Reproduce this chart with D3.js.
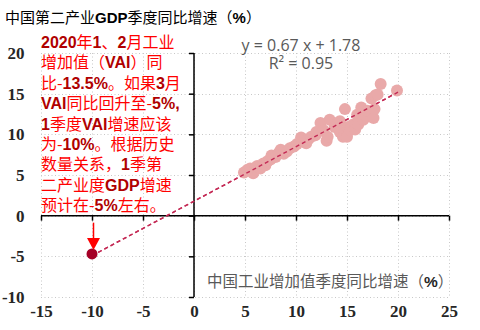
<!DOCTYPE html>
<html><head><meta charset="utf-8">
<script src="https://cdn.jsdelivr.net/npm/d3@7"></script>
<style>body{margin:0;background:#fff}svg{display:block}</style>
</head><body>
<svg id="c" width="480" height="330"></svg>
<script>
// ---- data ----
const xTicks = [-15, -10, -5, 0, 5, 10, 15, 20, 25];
const yTicks = [-10, -5, 0, 5, 10, 15, 20];
const vaiGrowth = [4.9,5.2,5.5,5.8,6.0,6.2,6.5,6.8,7.0,7.2,7.5,7.6,8.0,8.3,8.5,8.8,9.1,9.4,9.8,10.1,10.5,10.8,11.0,11.2,11.5,11.9,12.0,12.3,12.4,12.7,13.0,13.1,13.3,13.8,14.1,14.3,14.3,14.6,14.8,14.8,15.0,15.1,15.3,15.6,15.8,16.0,16.0,16.1,16.3,16.4,16.6,16.9,17.0,17.4,17.6,17.7,17.8,18.0,18.3,19.9];
const gdpGrowth = [5.3,5.6,5.8,5.2,5.9,6.1,5.8,6.4,6.2,6.7,6.9,7.4,7.2,7.7,8.1,7.6,7.9,8.3,8.5,8.8,9.6,9.1,8.9,9.4,9.7,9.9,10.3,10.4,11.4,10.5,9.2,9.7,11.8,10.9,11.4,10.3,11.6,9.7,9.9,13.1,9.7,10.9,10.5,11.2,10.6,11.4,12.4,11.2,11.8,13.3,11.8,12.2,12.9,14.4,12.0,13.1,14.8,14.9,16.2,15.4];
const forecastVai = [-10];
const forecastGdp = [-4.7];
const trendRange = [-10, 20];
const trendSlope = 0.67, trendIntercept = 1.78;
const equationLines = ["y = 0.67 x + 1.78", "R² = 0.95"];
const titleParts = [["中国第二产业", false], ["GDP", true], ["季度同比增速（", false], ["%", true], ["）", false]];
const xLabelParts = [["中国工业增加值季度同比增速（", false], ["%", true], ["）", false]];
const noteLines = [
  "2020年1、2月工业",
  "增加值（VAI）同",
  "比-13.5%。如果3月",
  "VAI同比回升至-5%,",
  "1季度VAI增速应该",
  "为-10%。根据历史",
  "数量关系，1季第",
  "二产业度GDP增速",
  "预计在-5%左右。"
];

// ---- drawing ----
const svg = d3.select("#c");
const x = d3.scaleLinear().domain([-15, 25]).range([41, 449]);
const y = d3.scaleLinear().domain([-10, 20]).range([297, 53]);
const cjk = "'Noto Sans CJK SC','Noto Sans',sans-serif";

// grid
const grid = svg.append("g").attr("stroke", "#c8c8c8").attr("stroke-width", 1).attr("stroke-dasharray", "1,2.5");
grid.selectAll(".gx").data(xTicks).join("line")
  .attr("x1", d => Math.round(x(d)) + 0.5).attr("x2", d => Math.round(x(d)) + 0.5)
  .attr("y1", y(20)).attr("y2", y(-10));
grid.selectAll(".gy").data(yTicks).join("line")
  .attr("y1", d => Math.round(y(d)) + 0.5).attr("y2", d => Math.round(y(d)) + 0.5)
  .attr("x1", x(-15)).attr("x2", x(25));

// annotation text
const note = svg.append("text").attr("font-family", cjk).attr("font-size", 16).attr("fill", "#ff0000");
noteLines.forEach((line, i) => {
  const parts = line.match(/[0-9A-Za-z.%,]+|[^0-9A-Za-z.%,]+/g);
  parts.forEach((p, j) => {
    const t = note.append("tspan").text(p);
    if (j === 0) t.attr("x", x(-15)).attr("y", 48 + i * 20.4);
    if (/^[0-9A-Za-z.%,]+$/.test(p)) t.attr("font-weight", "bold").attr("fill", "#b00000").attr("font-family", "'Liberation Sans',Arial,sans-serif");
  });
});

// axes (tick marks at zero lines)
const xAxis = svg.append("g").attr("transform", `translate(0,${y(0)})`)
  .call(d3.axisBottom(x).tickValues(xTicks).tickSize(5).tickFormat(""));
const yAxis = svg.append("g").attr("transform", `translate(${x(0)},0)`)
  .call(d3.axisLeft(y).tickValues(yTicks).tickSize(5).tickFormat(""));
[xAxis, yAxis].forEach(a => {
  a.select(".domain").attr("stroke", "#000").attr("stroke-width", 1.5);
  a.selectAll(".tick line").attr("stroke", "#000").attr("stroke-width", 1.5);
});
yAxis.select(".domain").attr("d", `M0,${y(20)}V${y(-10)}`);
xAxis.select(".domain").attr("d", `M${x(-15)},0H${x(25)}`);

// tick labels at the outer edges
const xLab = svg.append("g").attr("transform", "translate(0,311)")
  .call(d3.axisBottom(x).tickValues(xTicks).tickSize(0).tickFormat(d => String(d)));
const yLab = svg.append("g").attr("transform", "translate(31,0)")
  .call(d3.axisLeft(y).tickValues(yTicks).tickSize(0).tickFormat(d => String(d)));
[xLab, yLab].forEach(a => {
  a.select(".domain").remove();
  a.selectAll("text").attr("font-family", "'Liberation Serif','Times New Roman',serif")
    .attr("font-weight", "bold").attr("font-size", 17).attr("fill", "#262626");
});
xLab.selectAll("text").attr("dy", "0.2em");
yLab.selectAll("text").attr("dx", "-0.2em");

// trend line
svg.append("line")
  .attr("x1", x(trendRange[0])).attr("y1", y(trendSlope * trendRange[0] + trendIntercept))
  .attr("x2", x(trendRange[1])).attr("y2", y(trendSlope * trendRange[1] + trendIntercept))
  .attr("stroke", "#c42a55").attr("stroke-width", 1.4).attr("stroke-dasharray", "4,3");

// scatter
svg.append("g").selectAll("circle").data(vaiGrowth).join("circle")
  .attr("cx", d => x(d)).attr("cy", (d, i) => y(gdpGrowth[i])).attr("r", 6)
  .attr("fill", "#e9a9a9");
// redraw trend on top (dashes visible through points)
svg.append("line")
  .attr("x1", x(trendRange[0])).attr("y1", y(trendSlope * trendRange[0] + trendIntercept))
  .attr("x2", x(trendRange[1])).attr("y2", y(trendSlope * trendRange[1] + trendIntercept))
  .attr("stroke", "#c42a55").attr("stroke-width", 1.4).attr("stroke-dasharray", "4,3");

// forecast point
svg.append("g").selectAll("circle").data(forecastVai).join("circle")
  .attr("cx", d => x(d)).attr("cy", (d, i) => y(forecastGdp[i])).attr("r", 5.5)
  .attr("fill", "#a50026");

// arrow
const ax = x(forecastVai[0]) + 1.5, tipY = y(forecastGdp[0]) - 4;
svg.append("line").attr("x1", ax).attr("x2", ax).attr("y1", y(0) + 7).attr("y2", tipY - 10)
  .attr("stroke", "#ff0000").attr("stroke-width", 1.5);
svg.append("path").attr("d", `M${ax - 6.5},${tipY - 12}L${ax + 6.5},${tipY - 12}L${ax},${tipY}Z`).attr("fill", "#ff0000");

// equation
const eq = svg.append("text").attr("font-family", "'Open Sans',sans-serif").attr("font-size", 16)
  .attr("fill", "#595959").attr("text-anchor", "middle");
equationLines.forEach((l, i) => eq.append("tspan").attr("x", 301).attr("y", 51 + i * 18).text(l));

// title
const title = svg.append("text").attr("x", 5).attr("y", 23).attr("font-family", cjk).attr("font-size", 15).attr("fill", "#000");
titleParts.forEach(([t, b]) => {
  const s = title.append("tspan").text(t);
  if (b) s.attr("font-weight", "bold").attr("font-family", "'Liberation Sans',Arial,sans-serif");
});

// x-axis label
const xl = svg.append("text").attr("x", 207).attr("y", 287).attr("font-family", cjk).attr("font-size", 15.5).attr("fill", "#595959");
xLabelParts.forEach(([t, b]) => {
  const s = xl.append("tspan").text(t);
  if (b) s.attr("font-weight", "bold").attr("fill", "#262626").attr("font-family", "'Liberation Sans',Arial,sans-serif");
});
</script>
</body></html>
